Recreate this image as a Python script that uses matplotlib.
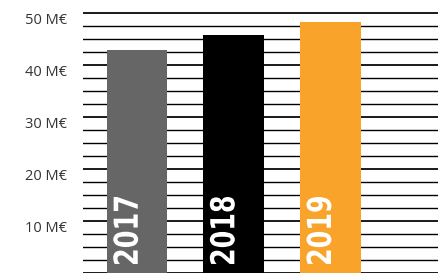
import matplotlib
matplotlib.use("Agg")
import matplotlib.pyplot as plt
import numpy as np
from matplotlib.textpath import TextPath
from matplotlib.patches import PathPatch
from matplotlib.font_manager import FontProperties
from matplotlib.transforms import Affine2D

years = ["2017", "2018", "2019"]
values = [43.0, 45.8, 48.4]
colors = ["#666666", "#000000", "#F9A32B"]
tick_vals = [10, 20, 30, 40, 50]
tick_labels = ["10 M€", "20 M€", "30 M€", "40 M€", "50 M€"]

W, H = 439, 273
fig = plt.figure(figsize=(W / 100, H / 100), dpi=100)
ax = fig.add_axes([82.7 / W, 0.0, 1 - 82.7 / W, 1.0])

ax.set_ylim(0, 272.5 / 5.184)
ax.set_xlim(-0.562, 3.126)

for v in np.arange(0, 50.01, 2.5):
    major = abs(v % 10) < 1e-9
    ax.axhline(v, color="#1a1a1a" if major else "#000000", lw=1.4 if major else 1.0, zorder=1)

x = np.arange(len(years))
bw = 0.627
ax.bar(x, values, width=bw, color=colors, zorder=2, edgecolor="none")

# condensed bold year labels, drawn as scaled text paths (display pixels)
fp = FontProperties(family="DejaVu Sans", weight="bold")
for xi, yr in zip(x, years):
    tp = TextPath((0, 0), yr, size=10, prop=fp)
    ext = tp.get_extents()
    left_px = ax.transData.transform((xi - bw / 2, 0))[0]
    tr = (Affine2D().translate(-ext.x0, -ext.y0)
          .scale(67 / ext.width, 25 / ext.height)
          .rotate_deg(90)
          .translate(left_px + 6.5 + 25, 9))
    patch = PathPatch(tr.transform_path(tp), facecolor="white", edgecolor="none",
                      transform=None, zorder=3)
    patch.set_transform(Affine2D())
    fig.add_artist(patch)

ax.set_yticks(tick_vals)
ax.set_yticklabels(tick_labels, fontsize=10.5, color="#333333", family=["Open Sans", "DejaVu Sans"])
for lbl in ax.get_yticklabels():
    lbl.set_va("top")
ax.tick_params(axis="y", length=0, pad=11)
ax.set_xticks([])
for s in ax.spines.values():
    s.set_visible(False)

fig.savefig("out.png", dpi=100)
